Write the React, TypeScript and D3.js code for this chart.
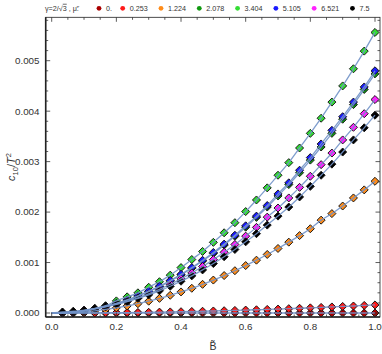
import React from "react";
import * as d3 from "d3";

// Data (values in units of 1e-3)
const bValues = [
  1/30, 2/30, 3/30, 4/30, 5/30, 6/30, 7/30, 8/30, 9/30, 10/30,
  11/30, 12/30, 13/30, 14/30, 15/30, 16/30, 17/30, 18/30, 19/30, 20/30,
  21/30, 22/30, 23/30, 24/30, 25/30, 26/30, 27/30, 28/30, 29/30, 1,
];
const muLabels = ["0.", "0.253", "1.224", "2.078", "3.404", "5.105", "6.521", "7.5"];
const muColors = ["#aa0000", "#ff1a1a", "#ff8c1a", "#119911", "#33dd33", "#1a1aff", "#ff22ff", "#000000"];

const s0 = [0,0,0,0,0,0,0,0,0,0,0,0,0,0,0,0,0,0,0,0,0,0,0,0,0,0,0,0,0,0];
const s0253 = [0.0002,0.0007,0.0016,0.0028,0.0044,0.0064,0.0087,0.0114,0.0144,0.0178,0.0215,0.0256,0.030,0.035,0.040,0.0455,0.051,0.058,0.064,0.071,0.078,0.086,0.094,0.102,0.111,0.120,0.130,0.139,0.150,0.160];
const s1224 = [0.002,0.010,0.024,0.044,0.070,0.102,0.140,0.184,0.234,0.290,0.351,0.418,0.490,0.568,0.653,0.742,0.838,0.940,1.047,1.160,1.279,1.404,1.534,1.670,1.84,1.97,2.12,2.28,2.44,2.61];
const s2078 = [0.004,0.018,0.044,0.081,0.128,0.186,0.254,0.334,0.422,0.522,0.633,0.755,0.887,1.03,1.18,1.345,1.52,1.70,1.895,2.10,2.32,2.545,2.78,3.03,3.29,3.56,3.84,4.13,4.43,4.74];
const s3404 = [0.003,0.015,0.040,0.085,0.145,0.24,0.32,0.40,0.51,0.62,0.75,0.90,1.06,1.22,1.40,1.59,1.79,2.01,2.24,2.48,2.73,2.98,3.27,3.56,3.86,4.18,4.50,4.84,5.19,5.56];
const s5105 = [0.005,0.021,0.048,0.085,0.133,0.192,0.261,0.341,0.432,0.533,0.645,0.768,0.901,1.045,1.20,1.365,1.541,1.728,1.92,2.13,2.36,2.58,2.83,3.08,3.35,3.62,3.89,4.18,4.48,4.80];
const s6521 = [0.008,0.024,0.048,0.080,0.120,0.170,0.230,0.301,0.381,0.470,0.569,0.677,0.794,0.921,1.058,1.203,1.358,1.523,1.697,1.90,2.08,2.28,2.49,2.71,2.94,3.17,3.43,3.68,3.95,4.23];
const s75 = [0.02,0.035,0.055,0.090,0.135,0.175,0.225,0.290,0.360,0.440,0.530,0.630,0.736,0.854,0.980,1.115,1.259,1.411,1.572,1.742,1.92,2.10,2.30,2.51,2.73,2.95,3.19,3.43,3.67,3.92];
const seriesValues = [s0, s0253, s1224, s2078, s3404, s5105, s6521, s75];

const xTicks = [0, 0.2, 0.4, 0.6, 0.8, 1.0];
const xTickLabels = ["0.0", "0.2", "0.4", "0.6", "0.8", "1.0"];
const yTicks = [0, 0.001, 0.002, 0.003, 0.004, 0.005];
const yTickLabels = ["0.000", "0.001", "0.002", "0.003", "0.004", "0.005"];

const W = 382, H = 354;
const frame = { left: 45.7, right: 380, top: 17.3, bottom: 317 };
const x = d3.scaleLinear().domain([0, 1]).range([51.7, 375]);
const y = d3.scaleLinear().domain([0, 0.005]).range([313, 60.7]);
const font = "'Liberation Sans', Arial, sans-serif";
const tickColor = "#333";

export default function App() {
  const xMin = x.invert(frame.left), xMax = x.invert(frame.right);
  const yMin = y.invert(frame.bottom), yMax = y.invert(frame.top);
  const xMinor = d3.range(0, 1.0001, 0.05).filter(v => v >= xMin && v <= xMax);
  const yMinor = d3.range(0, yMax, 0.0002).filter(v => v >= yMin && v <= yMax);

  const line = d3.line<[number, number]>()
    .x(d => x(d[0]))
    .y(d => y(d[1]))
    .curve(d3.curveMonotoneX);

  const diamond = d3.symbol().type(d3.symbolSquare).size(32)();

  // legend layout
  const lfs = 7.2;
  const layoutEm = 8.75;
  const labelW = (s: string) => s.split("").reduce((a, c) => a + (c === "." ? 0.278 : 0.556), 0) * layoutEm;
  const legendItems: { cx: number; tx: number; label: string; color: string }[] = [];
  let cx = 99;
  muLabels.forEach((lab, i) => {
    legendItems.push({ cx, tx: cx + 7, label: lab, color: muColors[i] });
    cx = cx + 16.4 + labelW(lab);
  });

  return (
    <svg width={W} height={H} style={{ position: "absolute", left: 0, top: 0, background: "#fff" }}>
      {/* legend */}
      <g fontFamily={font} fontSize={lfs} fill="#333">
        <text x={45} y={10.8}>
          γ=2/√<tspan textDecoration="overline">3</tspan> , μ̃:
        </text>
        {legendItems.map((it, i) => (
          <g key={i}>
            <circle cx={it.cx} cy={8.3} r={2.4} fill={it.color} />
            <text x={it.tx} y={10.8}>{it.label}</text>
          </g>
        ))}
      </g>

      {/* markers */}
      {seriesValues.map((vals, si) => (
        <g key={"m" + si}>
          {vals.map((v, i) => (
            <path key={i} d={diamond}
              transform={`translate(${x(bValues[i])},${y(v * 1e-3)}) rotate(45)`}
              fill={muColors[si]} stroke="#111" strokeWidth={0.9} />
          ))}
        </g>
      ))}
      {/* lines on top */}
      {seriesValues.map((vals, si) => {
        const pts: [number, number][] = [[0, 0], ...vals.map((v, i) => [bValues[i], v * 1e-3] as [number, number])];
        return <path key={"l" + si} d={line(pts) || ""} fill="none" stroke="#7192c8" strokeWidth={1.3} strokeOpacity={0.9} />;
      })}

      {/* frame */}
      <rect x={frame.left} y={frame.top} width={frame.right - frame.left} height={frame.bottom - frame.top}
        fill="none" stroke="#222" strokeWidth={0.8} />
      <line x1={frame.left} x2={frame.left} y1={frame.top} y2={frame.bottom} stroke="#222" strokeWidth={1.6} />
      <line x1={frame.left} x2={frame.right} y1={frame.bottom} y2={frame.bottom} stroke="#222" strokeWidth={1.6} />

      {/* x ticks */}
      {xMinor.map((v, i) => {
        const major = xTicks.some(t => Math.abs(t - v) < 1e-6);
        const len = major ? 4.5 : 2.5;
        return (
          <g key={"xt" + i} stroke={tickColor} strokeWidth={0.8}>
            <line x1={x(v)} x2={x(v)} y1={frame.bottom} y2={frame.bottom - len} />
            <line x1={x(v)} x2={x(v)} y1={frame.top} y2={frame.top + len} />
          </g>
        );
      })}
      {xTicks.map((v, i) => (
        <text key={"xl" + i} x={x(v)} y={330} textAnchor="middle" fontFamily={font} fontSize={9.8} fill="#333">
          {xTickLabels[i]}
        </text>
      ))}

      {/* y ticks */}
      {yMinor.map((v, i) => {
        const major = yTicks.some(t => Math.abs(t - v) < 1e-9);
        const len = major ? 4.5 : 2.5;
        return (
          <g key={"yt" + i} stroke={tickColor} strokeWidth={0.8}>
            <line x1={frame.left} x2={frame.left + len} y1={y(v)} y2={y(v)} />
            <line x1={frame.right} x2={frame.right - len} y1={y(v)} y2={y(v)} />
          </g>
        );
      })}
      {yTicks.map((v, i) => (
        <text key={"yl" + i} x={39.5} y={y(v) + 3.4} textAnchor="end" fontFamily={font} fontSize={9.8} fill="#333">
          {yTickLabels[i]}
        </text>
      ))}

      {/* axis labels */}
      <text transform="translate(15,167) rotate(-90)" textAnchor="middle" fontFamily={font} fontSize={11} fill="#333">
        <tspan fontStyle="italic">c</tspan>
        <tspan fontSize={7.5} dy={2.5}>10</tspan>
        <tspan dy={-2.5}>/</tspan>
        <tspan fontStyle="italic">T</tspan>
        <tspan fontSize={7.5} dy={-4}>2</tspan>
      </text>
      <text x={213} y={350} textAnchor="middle" fontFamily={font} fontSize={10.5} fill="#333">B̃</text>
    </svg>
  );
}
